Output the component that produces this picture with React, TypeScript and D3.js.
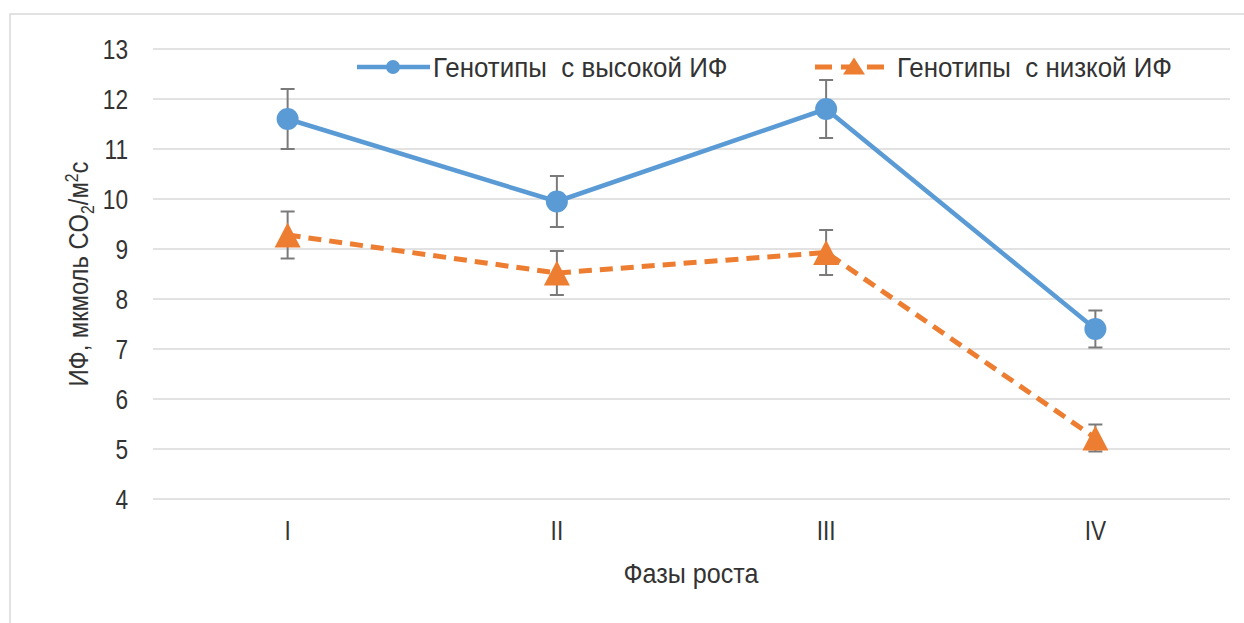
import React from "react";
import * as d3 from "d3";

const categories = ["I", "II", "III", "IV"];
const highValues = [11.6, 9.95, 11.8, 7.4];
const highErrors = [0.6, 0.51, 0.58, 0.37];
const lowValues = [9.28, 8.52, 8.93, 5.22];
const lowErrors = [0.47, 0.44, 0.45, 0.27];
const yTicks = [4, 5, 6, 7, 8, 9, 10, 11, 12, 13];
const legendLabels = ["Генотипы  с высокой ИФ", "Генотипы  с низкой ИФ"];

const W = 1244;
const H = 623;
const FONT = "'Liberation Sans', Arial, sans-serif";
const FS = 27;

const BLUE = "#5b9bd5";
const ORANGE = "#ed7d31";
const GRID = "#d9d9d9";
const ERR = "#7a7a7a";
const TXT = "#333333";

const App = () => {
  const x = d3.scaleBand().domain(categories).range([153, 1230]);
  const y = d3.scaleLinear().domain([4, 13]).range([499, 49]);
  const cx = (c: string) => (x(c) as number) + x.bandwidth() / 2;

  const line = d3
    .line<number>()
    .x((d, i) => cx(categories[i]))
    .y((d) => y(d));

  const tri = (px: number, py: number, w: number, h: number) =>
    `M${px},${py - h / 2}L${px + w / 2},${py + h / 2}L${px - w / 2},${py + h / 2}Z`;

  const errBars = (vals: number[], errs: number[]) =>
    vals.map((v, i) => {
      const px = cx(categories[i]);
      const top = y(v + errs[i]);
      const bot = y(v - errs[i]);
      return (
        <g key={i} stroke={ERR} strokeWidth={2}>
          <line x1={px} x2={px} y1={top} y2={bot} />
          <line x1={px - 7} x2={px + 7} y1={top} y2={top} />
          <line x1={px - 7} x2={px + 7} y1={bot} y2={bot} />
        </g>
      );
    });

  const txt = (s: React.ReactNode, px: number, py: number, anchor = "start", sx = 0.9, key?: any) => (
    <text
      key={key}
      transform={`translate(${px},${py}) scale(${sx},1)`}
      textAnchor={anchor}
      fontFamily={FONT}
      fontSize={FS}
      fill={TXT}
      style={{ whiteSpace: "pre" }}
    >
      {s}
    </text>
  );

  return (
    <svg width={W} height={H} style={{ position: "absolute", left: 0, top: 0, background: "#fff" }}>
      <rect x={10} y={14} width={W} height={H} fill="#fff" stroke={GRID} strokeWidth={1.5} />

      {yTicks.map((t) => (
        <g key={t}>
          <line x1={153} x2={1230} y1={y(t)} y2={y(t)} stroke={GRID} strokeWidth={1.5} />
          {txt(String(t), 128, y(t) + 9.5, "end", 0.84)}
        </g>
      ))}

      {categories.map((c, i) => txt(c, cx(c), 540, "middle", 0.84, "c" + i))}
      {txt("Фазы роста", 691, 583, "middle", 0.93)}

      <text
        transform={`translate(88,274) rotate(-90) scale(0.88,1)`}
        textAnchor="middle"
        fontFamily={FONT}
        fontSize={FS}
        fill={TXT}
      >
        ИФ, мкмоль CO
        <tspan fontSize={18} dy={6}>2</tspan>
        <tspan dy={-6}>/м</tspan>
        <tspan fontSize={18} dy={-10}>2</tspan>
        <tspan dy={10}>с</tspan>
      </text>

      {errBars(highValues, highErrors)}
      {errBars(lowValues, lowErrors)}

      <path d={line(highValues) as string} fill="none" stroke={BLUE} strokeWidth={4.5} strokeLinejoin="round" />
      <path
        d={line(lowValues) as string}
        fill="none"
        stroke={ORANGE}
        strokeWidth={5}
        strokeDasharray="13,8"
      />

      {highValues.map((v, i) => (
        <circle key={i} cx={cx(categories[i])} cy={y(v)} r={11} fill={BLUE} />
      ))}
      {lowValues.map((v, i) => (
        <path key={i} d={tri(cx(categories[i]), y(v), 26, 25)} fill={ORANGE} />
      ))}

      {/* legend */}
      <line x1={357} x2={430} y1={67} y2={67} stroke={BLUE} strokeWidth={4.5} />
      <circle cx={393} cy={67} r={7} fill={BLUE} />
      {txt(legendLabels[0], 433, 77, "start", 0.96)}
      <line x1={815} x2={885} y1={67} y2={67} stroke={ORANGE} strokeWidth={5} strokeDasharray="17,9" />
      <path d={tri(854, 66, 22, 17)} fill={ORANGE} />
      {txt(legendLabels[1], 897, 77, "start", 0.96)}
    </svg>
  );
};

export default App;
